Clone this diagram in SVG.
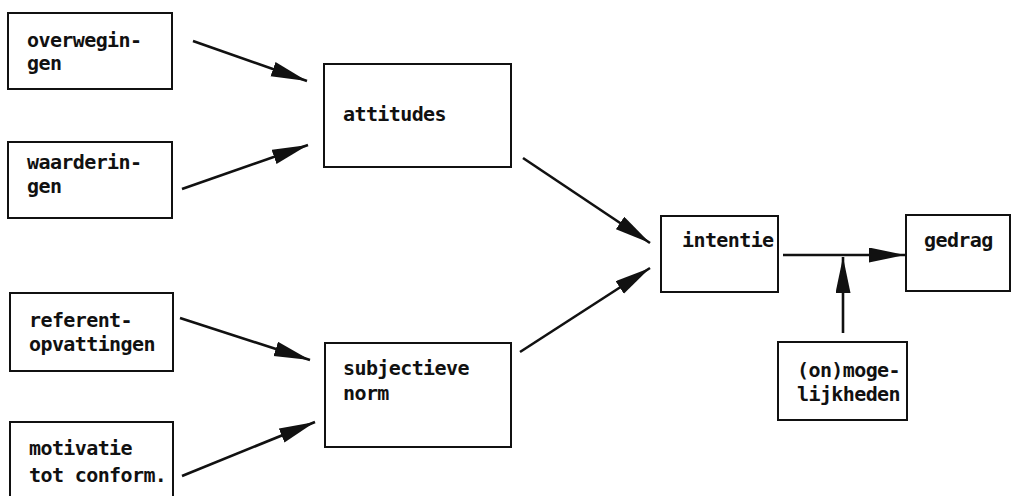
<svg xmlns="http://www.w3.org/2000/svg" width="1016" height="496" viewBox="0 0 1016 496">
<style>
.box{fill:#fff;stroke:#111;stroke-width:2}
.t{font-family:"DejaVu Sans Mono","Liberation Mono",monospace;font-size:20px;letter-spacing:-0.6px;fill:#111;font-weight:bold}
.c{stroke:#111;stroke-width:2.6;fill:none;marker-end:url(#ah)}
</style>
<defs>
<marker id="ah" markerUnits="userSpaceOnUse" markerWidth="38" markerHeight="16" refX="36" refY="7.5" orient="auto">
<path d="M0,0 L36,7.5 L0,15 Z" fill="#111"/>
</marker>
</defs>
<rect width="1016" height="496" fill="#fff"/>
<g id="overwegingen"><rect class="box" x="8" y="13" width="164" height="76"/><text class="t" x="27" y="47">overwegin-</text><text class="t" x="27" y="70">gen</text></g>
<g id="waarderingen"><rect class="box" x="8" y="142" width="164" height="76"/><text class="t" x="27" y="169">waarderin-</text><text class="t" x="27" y="193">gen</text></g>
<g id="referent"><rect class="box" x="10" y="293" width="163" height="78"/><text class="t" x="29" y="327">referent-</text><text class="t" x="29" y="351">opvattingen</text></g>
<g id="motivatie"><rect class="box" x="10" y="422" width="163" height="84"/><text class="t" x="29" y="455">motivatie</text><text class="t" x="29" y="482">tot conform.</text></g>
<g id="attitudes"><rect class="box" x="324" y="64" width="187" height="103"/><text class="t" x="343" y="121">attitudes</text></g>
<g id="subjectieve"><rect class="box" x="325" y="343" width="186" height="104"/><text class="t" x="343" y="375">subjectieve</text><text class="t" x="343" y="400">norm</text></g>
<g id="intentie"><rect class="box" x="661" y="216" width="117" height="76"/><text class="t" x="682" y="247">intentie</text></g>
<g id="gedrag"><rect class="box" x="906" y="215" width="104" height="76"/><text class="t" x="924" y="247">gedrag</text></g>
<g id="mogelijkheden"><rect class="box" x="778" y="342" width="129" height="78"/><text class="t" x="797" y="377">(on)moge-</text><text class="t" x="797" y="401">lijkheden</text></g>
<g id="connectors">
<line class="c" x1="193" y1="41" x2="307" y2="81"/>
<line class="c" x1="182" y1="189" x2="308" y2="145"/>
<line class="c" x1="180" y1="318" x2="310" y2="360"/>
<line class="c" x1="182" y1="476" x2="315" y2="422"/>
<line class="c" x1="523" y1="158" x2="650" y2="243"/>
<line class="c" x1="520" y1="352" x2="650" y2="268"/>
<line class="c" x1="783" y1="255" x2="905" y2="255"/>
<line class="c" x1="843" y1="333" x2="843" y2="257"/>
</g>
</svg>
